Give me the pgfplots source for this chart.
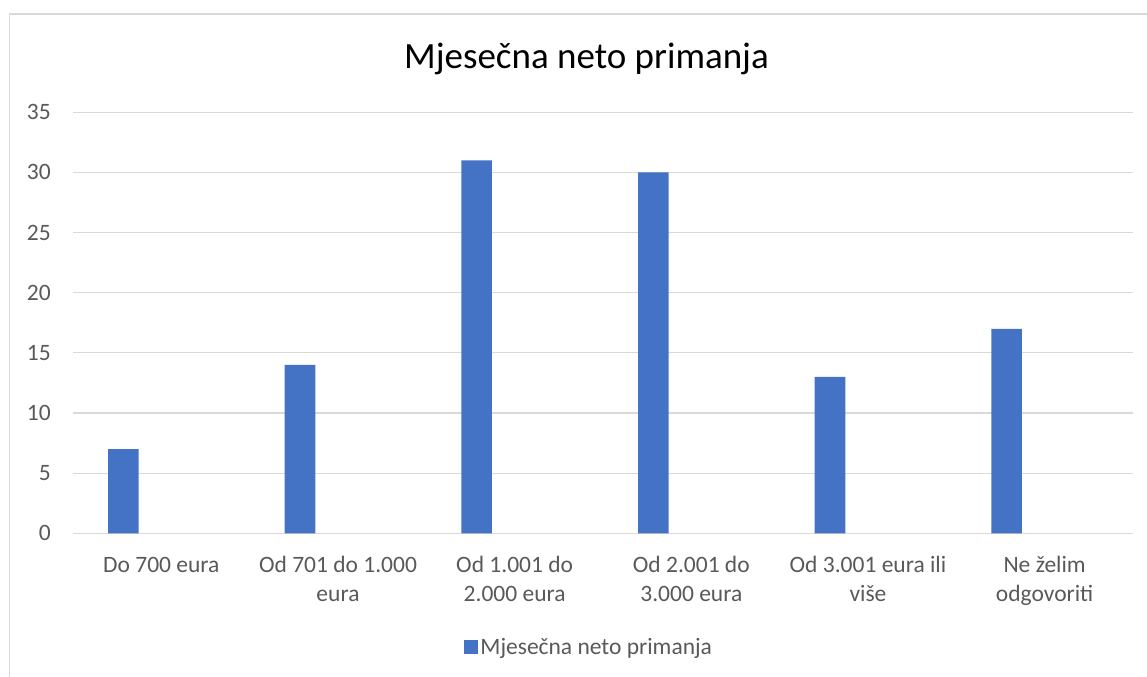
\documentclass[border=0pt]{standalone}
\usepackage{pgfplots}
\pgfplotsset{compat=1.18}
\usepackage{fontspec}
\setmainfont{Carlito}
\definecolor{barblue}{HTML}{4472C4}
\definecolor{txtgray}{HTML}{595959}
\definecolor{gridgray}{HTML}{D9D9D9}
\newcommand\fr{\rule{0pt}{18bp}}
\begin{document}
\begin{tikzpicture}[x=1bp,y=1bp]
\useasboundingbox (0,0) rectangle (1147,677);
\draw[gridgray, line width=1.3bp] (9.5,-20) -- (9.5,663) -- (1160,663);
\node[anchor=base, inner sep=0pt, font=\fontsize{37bp}{44bp}\selectfont, text=black] at (586.5,608) {Mjesečna neto primanja};
\begin{axis}[
  at={(73bp,143.7bp)}, anchor=south west,
  scale only axis, width=1060bp, height=421bp,
  xmin=-0.5, xmax=5.5, ymin=0, ymax=35,
  ybar, bar width=30.6bp, bar shift=-38bp,
  axis line style={draw=none},
  major tick length=0pt,
  ytick={0,5,...,35},
  ymajorgrids, grid style={gridgray, line width=1.2bp},
  xtick={0,...,5},
  xticklabels={{\fr Do 700 eura},{\fr Od 701 do 1.000\\eura},{\fr Od 1.001 do\\2.000 eura},{\fr Od 2.001 do\\3.000 eura},{\fr Od 3.001 eura ili\\više},{\fr Ne želim\\odgovoriti}},
  xticklabel style={anchor=north, inner sep=0pt, yshift=-21.4bp, align=center, text=txtgray, font=\fontsize{23.5bp}{28.4bp}\selectfont},
  yticklabel style={anchor=east, inner sep=0pt, xshift=-22bp, text=txtgray, font=\fontsize{23.5bp}{28.4bp}\selectfont},
  /pgf/number format/assume math mode=true,
  legend style={at={(0.487,-0.27)}, anchor=center, draw=none, fill=none, font=\fontsize{23.5bp}{28.4bp}\selectfont, text=txtgray, inner sep=0pt, /tikz/every even column/.append style={column sep=0bp}},
  legend image code/.code={\fill[barblue] (0bp,-7bp) rectangle (14bp,7bp);},
]
\addplot[fill=barblue, draw=none] coordinates {(0,7) (1,14) (2,31) (3,30) (4,13) (5,17)};
\addlegendentry{Mjesečna neto primanja}
\end{axis}
\end{tikzpicture}
\end{document}
